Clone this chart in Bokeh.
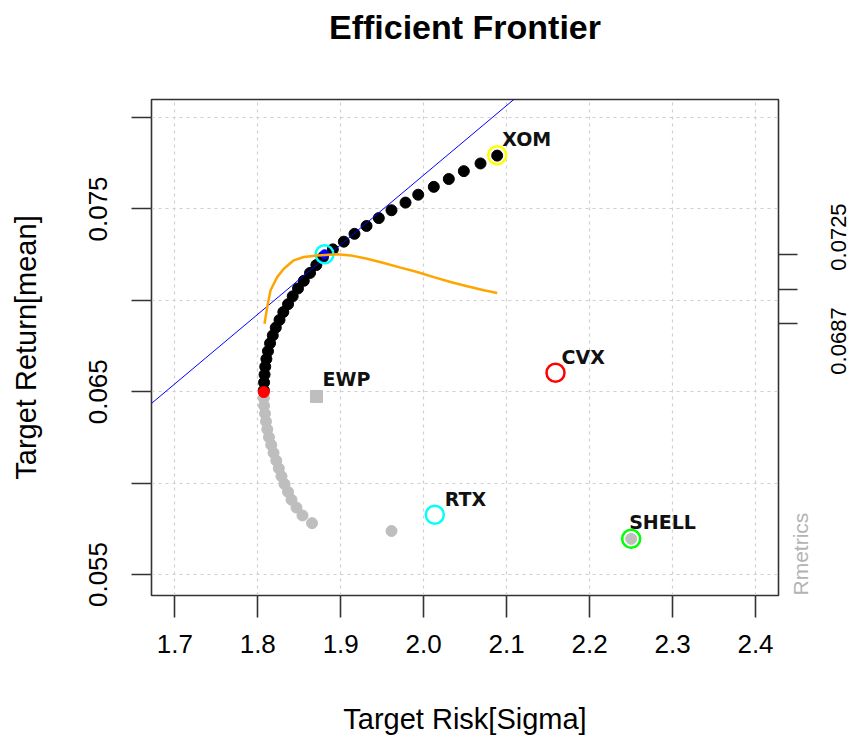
import math
from bokeh.plotting import figure
from bokeh.layouts import row
from bokeh.models import Range1d, FixedTicker, LinearAxis, Title, ColumnDataSource, PrintfTickFormatter
from bokeh.embed import file_html
from bokeh.resources import INLINE
from bokeh.core.properties import value

# ---------------- data ----------------
frontier_return = [
    0.05695, 0.05738, 0.05781, 0.05823, 0.05866, 0.05909, 0.05952, 0.05995, 0.06037, 0.06080,
    0.06123, 0.06166, 0.06209, 0.06251, 0.06294, 0.06337, 0.06380, 0.06423, 0.06465, 0.06508,
    0.06551, 0.06594, 0.06637, 0.06679, 0.06722, 0.06765, 0.06808, 0.06851, 0.06893, 0.06936,
    0.06979, 0.07022, 0.07065, 0.07107, 0.07150, 0.07193, 0.07236, 0.07279, 0.07321, 0.07364,
    0.07407, 0.07450, 0.07493, 0.07535, 0.07578, 0.07621, 0.07664, 0.07707, 0.07749, 0.07792,
]
frontier_risk = [
    2.2501, 1.9612, 1.8654, 1.8539, 1.8467, 1.8407, 1.8365, 1.8322, 1.8286, 1.8254,
    1.8223, 1.8190, 1.8162, 1.8135, 1.8115, 1.8099, 1.8087, 1.8076, 1.8073, 1.8073,
    1.8076, 1.8082, 1.8090, 1.8104, 1.8123, 1.8148, 1.8181, 1.8217, 1.8262, 1.8308,
    1.8365, 1.8421, 1.8485, 1.8555, 1.8630, 1.8706, 1.8785, 1.8905, 1.9037, 1.9166,
    1.9311, 1.9459, 1.9612, 1.9781, 1.9934, 2.0122, 2.0303, 2.0484, 2.0685, 2.0886,
]
n_inefficient = 19   # lower (grey) part of the frontier

asset_names = ["CVX", "RTX", "SHELL", "XOM"]
asset_risk = [2.1589, 2.0134, 2.2501, 2.0886]
asset_return = [0.06604, 0.05827, 0.05695, 0.07794]

ewp_risk, ewp_return = 1.8708, 0.06474
minvar_risk, minvar_return = 1.8073, 0.06498
tangency_risk, tangency_return = 1.8805, 0.07252
cml_rf, cml_slope = 0.000694, 0.03808

sharpe_risk = [1.8081, 1.8114, 1.8154, 1.8234, 1.8314, 1.8434, 1.8555, 1.8716, 1.8958, 1.9118,
               1.9319, 1.9519, 1.9721, 1.9922, 2.0122, 2.0323, 2.0525, 2.0725, 2.0886]
sharpe_scaled = [0.06872, 0.06963, 0.07055, 0.07127, 0.07173, 0.07219, 0.07237, 0.07246, 0.07252, 0.07246,
                 0.07228, 0.07204, 0.07179, 0.07155, 0.07127, 0.07100, 0.07077, 0.07055, 0.07040]

x_ticks = [1.7, 1.8, 1.9, 2.0, 2.1, 2.2, 2.3, 2.4]
y_ticks = [0.055, 0.060, 0.065, 0.070, 0.075, 0.080]
y_hidden = [0.060, 0.070, 0.080]

title_text = "Efficient Frontier"
x_title = "Target Risk[Sigma]"
y_title = "Target Return[mean]"
credit_text = "Rmetrics"

# ---------------- styles ----------------
asset_colors = ["#ff0000", "#00ffff", "#00ff00", "#ffff00"]
label_dx = [6, 10, -2, 5, 6]
label_dy = [-16, -16, -17, -16, -17]
GREY = "#bebebe"
FONT = "Liberation Sans"
MAIN_W, SIDE_W, H = 826, 27, 742
SIDE_TEXT_X = 12

x0, x1 = 1.6719, 2.4277
y0, y1 = 0.05385, 0.08099

p = figure(width=MAIN_W, height=H, output_backend="svg", toolbar_location=None,
           x_range=Range1d(x0, x1), y_range=Range1d(y0, y1),
           min_border_left=151, min_border_right=MAIN_W - 778, min_border_top=99, min_border_bottom=147,
           background_fill_color="white", border_fill_color="white")

p.outline_line_color = "#333333"
p.outline_line_width = 1.6
p.title.text = ""

# blank spacer next to the frame, then the title above it
p.add_layout(Title(text=" ", text_color="white", text_font_size="10px", standoff=39), "above")
p.add_layout(Title(text=title_text, align="center", text_font=FONT, text_font_size="34px",
                   text_font_style="bold", text_color="black", standoff=4), "above")

def style_axis(ax, tick_out, font_size, standoff):
    ax.axis_line_color = None
    ax.major_tick_out = tick_out
    ax.major_tick_in = 0
    ax.minor_tick_line_color = None
    ax.major_tick_line_color = "#333333"
    ax.major_tick_line_width = 1.6
    ax.major_label_text_font = FONT
    ax.major_label_text_font_size = font_size
    ax.major_label_text_color = "black"
    ax.major_label_standoff = standoff
    ax.axis_label_text_font = FONT
    ax.axis_label_text_font_style = "normal"
    ax.axis_label_text_font_size = "29px"
    ax.axis_label_text_color = "black"

xa = p.xaxis[0]
xa.ticker = FixedTicker(ticks=x_ticks)
xa.formatter = PrintfTickFormatter(format="%.1f")
style_axis(xa, 22, "26px", 17)
xa.axis_label = x_title
xa.axis_label_standoff = 47

ya = p.yaxis[0]
ya.ticker = FixedTicker(ticks=y_ticks)
ya.formatter = PrintfTickFormatter(format="%.3f")
ya.major_label_overrides = {v: "" for v in y_hidden}
style_axis(ya, 20, "26px", 24)
ya.major_label_orientation = "vertical"
ya.axis_label = y_title
ya.axis_label_standoff = 45

# right axis: Sharpe-ratio ticks (minor) and the "Rmetrics" credit (major label)
sr_min, sr_max = min(sharpe_scaled), max(sharpe_scaled)
sr_mid = round((sr_min + sr_max) / 2, 5)
sr_label = f"{sr_min:.4f}" + "\u00a0" * 6 + f"{sr_max:.4f}"

ra = LinearAxis(ticker=FixedTicker(ticks=[y0], minor_ticks=[sr_min, sr_mid, sr_max]))
style_axis(ra, 19, "21px", 3)
ra.major_tick_line_color = None
ra.minor_tick_out = 19
ra.minor_tick_in = 0
ra.minor_tick_line_color = "#333333"
ra.minor_tick_line_width = 1.6
ra.major_label_overrides = {y0: credit_text}
ra.major_label_text_color = "#b3b3b3"
ra.major_label_orientation = math.pi / 2
p.add_layout(ra, "right")

for g, t in ((p.xgrid, x_ticks), (p.ygrid, y_ticks)):
    g.ticker = FixedTicker(ticks=t)
    g.grid_line_color = "#cfcfcf"
    g.grid_line_dash = "3 4"
    g.grid_line_width = 1.2

# frontier points
p.scatter(frontier_risk[:n_inefficient], frontier_return[:n_inefficient], size=11, color=GREY)
p.scatter(frontier_risk[n_inefficient:], frontier_return[n_inefficient:], size=11, color="black")
p.scatter([minvar_risk], [minvar_return], size=11, color="red")

# capital market line
cml_x = [x0, x1]
cml_y = [cml_rf + cml_slope * v for v in cml_x]
p.line(cml_x, cml_y, color="blue", line_width=1)

# tangency
p.scatter([tangency_risk], [tangency_return], size=9, color="blue")
p.scatter([tangency_risk], [tangency_return], size=18, fill_color=None,
          line_color="#00ffff", line_width=2.5)

# single assets
p.scatter(asset_risk, asset_return, size=18, fill_color=None, line_color=asset_colors, line_width=2.5)

# equal weights portfolio
p.scatter([ewp_risk], [ewp_return], marker="square", size=12, color=GREY)

# sharpe ratio line
p.line(sharpe_risk, sharpe_scaled, color="#ffa500", line_width=2.5)

# labels
lab = ColumnDataSource(dict(
    x=asset_risk + [ewp_risk],
    y=asset_return + [ewp_return],
    t=asset_names + ["EWP"],
    dx=label_dx, dy=label_dy))
p.text(x="x", y="y", text="t", x_offset="dx", y_offset="dy", source=lab,
       text_font=value("DejaVu Sans"), text_font_style="bold", text_font_size="19px",
       text_align="left", text_baseline="middle", text_color="#111111")

# side strip carrying the Sharpe-ratio range label, sharing the y scale
s = figure(width=SIDE_W, height=H, output_backend="svg", toolbar_location=None,
           x_range=Range1d(0, SIDE_W), y_range=p.y_range,
           min_border_left=0, min_border_right=0, min_border_top=99, min_border_bottom=147,
           x_axis_location=None, y_axis_location=None,
           background_fill_color="white", border_fill_color="white")
s.outline_line_color = None
s.xgrid.visible = False
s.ygrid.visible = False
s.text(x=[SIDE_TEXT_X], y=[sr_mid], text=[sr_label], angle=math.pi / 2,
       text_align="center", text_baseline="middle", text_color="black",
       text_font=value(FONT), text_font_size="22px")

layout = row(p, s, spacing=0)
open("out.html", "w").write(file_html(layout, INLINE))
